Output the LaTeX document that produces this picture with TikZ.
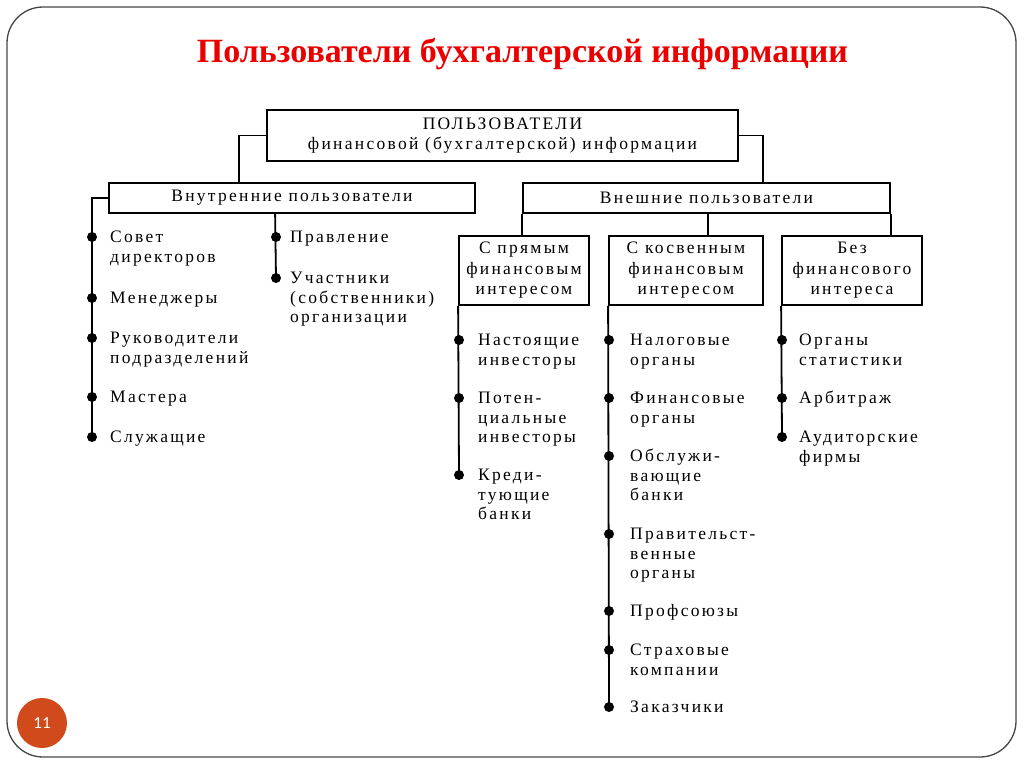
\documentclass[tikz,border=0pt]{standalone}
\usepackage{fontspec}
\setmainfont{Liberation Serif}
\newfontfamily\df[LetterSpace=13]{Liberation Serif}
\newfontfamily\numfont{Carlito}
\definecolor{titlered}{RGB}{235,0,0}
\definecolor{numcol}{RGB}{208,74,28}
\definecolor{framecol}{RGB}{70,70,70}
\tikzset{
  box/.style={draw, line width=1.8pt, inner sep=0pt, align=center, font=\df\fontsize{17.5}{20.5}\selectfont},
  lbl/.style={anchor=north west, inner sep=0pt, align=left, font=\df\fontsize{17.5}{19.5}\selectfont},
  dot/.style={circle, fill=black, inner sep=0pt, minimum size=10pt},
  conn/.style={line width=1.8pt},
}
\begin{document}
\begin{tikzpicture}[x=1pt,y=-1pt]
\useasboundingbox (0,0) rectangle (1024,768);
\draw[framecol, line width=1.3pt, rounded corners=36pt] (7,7) rectangle (1016,757);
\node[anchor=base, inner sep=0pt, text=titlered, font=\bfseries] (title) at (522.5,63)
  {\resizebox{651pt}{!}{Пользователи бухгалтерской информации}};

% boxes
\node[box, minimum width=471pt, minimum height=51pt] (top) at (502.5,135.5) {ПОЛЬЗОВАТЕЛИ\\финансовой (бухгалтерской) информации};
\node[box, minimum width=366pt, minimum height=30pt] (inn) at (292,198) {Внутренние пользователи};
\node[box, minimum width=367pt, minimum height=30pt] (ext) at (706.5,198) {Внешние пользователи};
\node[box, minimum width=130pt, minimum height=69pt] (s1) at (524,270.5) {С прямым\\финансовым\\интересом};
\node[box, minimum width=154pt, minimum height=69pt] (s2) at (686,270.5) {С косвенным\\финансовым\\интересом};
\node[box, minimum width=140pt, minimum height=69pt] (s3) at (852,270.5) {Без\\финансового\\интереса};

% bullets
\foreach \n/\x/\y in {a1/92/237,a2/92/298,a3/92/338,a4/92/397,a5/92/437,
  b1/276/237,b2/276/278,
  c1/459/340,c2/459/398,c3/459/475,
  d1/609/340,d2/609/398,d3/609/456,d4/609/534,d5/609/611,d6/609/650,d7/609/707,
  e1/782/340,e2/782/398,e3/782/437}
  \node[dot] (\n) at (\x,\y) {};

% connectors
\draw[conn] (top.west) -| ([xshift=131pt]inn.north west);
\draw[conn] (top.east) -| ([xshift=241pt]ext.north west);
\draw[conn] (inn.west) -| (a5.center);
\draw[conn] ([xshift=167pt]inn.south west) -- (b2.center);
\draw[conn] (ext.south west) -- (ext.south west |- s1.north);
\draw[conn] ([xshift=1.5pt]ext.south) -- ([xshift=1.5pt]ext.south |- s2.north);
\draw[conn] (ext.south east) -- (ext.south east |- s3.north);
\draw[conn] (s1.south west) -- (c3.center);
\draw[conn] (s2.south west) -- (d7.center);
\draw[conn] (s3.south west) -- (e3.center);

% labels
\def\tx#1#2#3#4{\node[lbl] (#1) at (#2,#3-8.2) {\strut #4};}
\tx{ta1}{110}{237}{Совет\\директоров}
\tx{ta2}{110}{298}{Менеджеры}
\tx{ta3}{110}{338}{Руководители\\подразделений}
\tx{ta4}{110}{397}{Мастера}
\tx{ta5}{110}{437}{Служащие}
\tx{tb1}{290}{237}{Правление}
\tx{tb2}{290}{278}{Участники\\(собственники)\\организации}
\tx{tc1}{478}{340}{Настоящие\\инвесторы}
\tx{tc2}{478}{398}{Потен-\\циальные\\инвесторы}
\tx{tc3}{478}{475}{Креди-\\тующие\\банки}
\tx{td1}{630}{340}{Налоговые\\органы}
\tx{td2}{630}{398}{Финансовые\\органы}
\tx{td3}{630}{456}{Обслужи-\\вающие\\банки}
\tx{td4}{630}{534}{Правительст-\\венные\\органы}
\tx{td5}{630}{611}{Профсоюзы}
\tx{td6}{630}{650}{Страховые\\компании}
\tx{td7}{630}{707}{Заказчики}
\tx{te1}{799}{340}{Органы\\статистики}
\tx{te2}{799}{398}{Арбитраж}
\tx{te3}{799}{437}{Аудиторские\\фирмы}

\node[circle, fill=numcol, minimum size=50pt, inner sep=0pt, text=white, font=\numfont\fontsize{17}{17}\selectfont] (num) at (42,723) {11};
\end{tikzpicture}
\end{document}
